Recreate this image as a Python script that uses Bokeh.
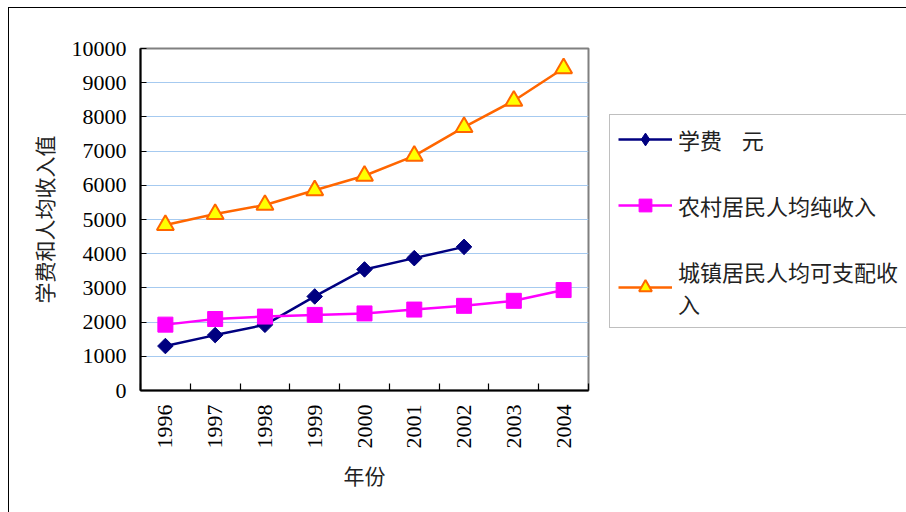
import math
from bokeh.plotting import figure
from bokeh.models import Legend, LegendItem, FixedTicker, Range1d
from bokeh.embed import file_html
from bokeh.resources import INLINE

years = [1996, 1997, 1998, 1999, 2000, 2001, 2002, 2003, 2004]
tuition_years = [1996, 1997, 1998, 1999, 2000, 2001, 2002]
tuition = [1300, 1620, 1920, 2750, 3540, 3870, 4200]
rural = [1926.1, 2090.1, 2162.0, 2210.3, 2253.4, 2366.4, 2475.6, 2622.2, 2936.4]
urban = [4838.9, 5160.3, 5425.1, 5854.0, 6280.0, 6859.6, 7702.8, 8472.2, 9421.6]
y_ticks = [0, 1000, 2000, 3000, 4000, 5000, 6000, 7000, 8000, 9000, 10000]

series_names = ["学费    元", "农村居民人均纯收入", "城镇居民人均可支配收\n入"]
x_title = "年份"
y_title = "学费和人均收入值"

NUM_FONT = "Liberation Serif"
CJK_FONT = "Noto Sans CJK SC"

p = figure(frame_width=448, frame_height=342, output_backend="svg", toolbar_location=None,
           x_range=Range1d(years[0] - 0.5, years[-1] + 0.5), y_range=Range1d(0, 10000),
           min_border_left=131, min_border_right=318, min_border_top=40, min_border_bottom=122,
           background_fill_color="white", border_fill_color="white")
p.styles = {"margin-left": "8px", "margin-top": "7px",
            "border-top": "1px solid black", "border-left": "1px solid black"}

p.outline_line_color = "#808080"
p.outline_line_width = 2

p.xgrid.visible = False
p.ygrid.grid_line_color = "#A6CAF0"
p.ygrid.grid_line_width = 1.2

# x axis
p.xaxis.ticker = FixedTicker(ticks=years, minor_ticks=[y - 0.5 for y in years] + [years[-1] + 0.5])
p.xaxis.major_label_overrides = {y: str(y) for y in years}
p.xaxis.major_tick_in = 0
p.xaxis.major_tick_out = 0
p.xaxis.minor_tick_in = 7
p.xaxis.minor_tick_out = 0
p.xaxis.minor_tick_line_color = "black"
p.xaxis.minor_tick_line_width = 1.2
p.xaxis.major_label_orientation = math.pi / 2
p.xaxis.major_label_standoff = 14
p.xaxis.major_label_text_font = NUM_FONT
p.xaxis.major_label_text_font_size = "22px"
p.xaxis.major_label_text_color = "black"
p.xaxis.axis_line_color = "black"
p.xaxis.axis_line_width = 2
p.xaxis.axis_label = x_title
p.xaxis.axis_label_text_font = CJK_FONT
p.xaxis.axis_label_text_font_style = "normal"
p.xaxis.axis_label_text_font_size = "21px"
p.xaxis.axis_label_text_color = "#222222"
p.xaxis.axis_label_standoff = 8

# y axis
p.yaxis.ticker = FixedTicker(ticks=y_ticks)
p.yaxis.major_tick_in = 6
p.yaxis.major_tick_out = 0
p.yaxis.minor_tick_line_color = None
p.yaxis.major_tick_line_color = "black"
p.yaxis.major_label_standoff = 14
p.yaxis.major_label_text_font = NUM_FONT
p.yaxis.major_label_text_font_size = "22px"
p.yaxis.major_label_text_color = "black"
p.yaxis.axis_line_color = "black"
p.yaxis.axis_line_width = 2
p.yaxis.axis_label = y_title
p.yaxis.axis_label_text_font = CJK_FONT
p.yaxis.axis_label_text_font_style = "normal"
p.yaxis.axis_label_text_font_size = "21px"
p.yaxis.axis_label_text_color = "#222222"
p.yaxis.axis_label_standoff = 10

# series
l1 = p.line(tuition_years, tuition, line_color="#000080", line_width=2.5)
d1 = p.scatter(tuition_years, tuition, marker="diamond", size=14,
               fill_color="#000080", line_color="#000080")
s1 = p.scatter(tuition_years, tuition, marker="square", angle=math.pi / 4, size=11,
               fill_color="#000080", line_color="#000080")
l2 = p.line(years, rural, line_color="#FF00FF", line_width=2.5)
s2 = p.scatter(years, rural, marker="square", size=15, fill_color="#FF00FF", line_color="#FF00FF")
l3 = p.line(years, urban, line_color="#FF6600", line_width=2.5)
s3 = p.scatter(years, urban, marker="triangle", size=17, fill_color="#FFFF00", line_color="#FF6600", line_width=2)

legend = Legend(items=[
    LegendItem(label=series_names[0], renderers=[l1, d1]),
    LegendItem(label=series_names[1], renderers=[l2, s2]),
    LegendItem(label=series_names[2], renderers=[l3, s3]),
], location=(21, 62))
legend.glyph_width = 54
legend.glyph_height = 32
legend.label_standoff = 6
legend.label_width = 250
legend.padding = 8
legend.spacing = 34
legend.margin = 0
legend.border_line_color = "#808080"
legend.border_line_width = 1.5
legend.label_text_font = CJK_FONT
legend.label_text_font_size = "22px"
legend.label_text_color = "#222222"
legend.background_fill_color = "white"
p.add_layout(legend, "right")

open("out.html", "w").write(file_html(p, INLINE))
